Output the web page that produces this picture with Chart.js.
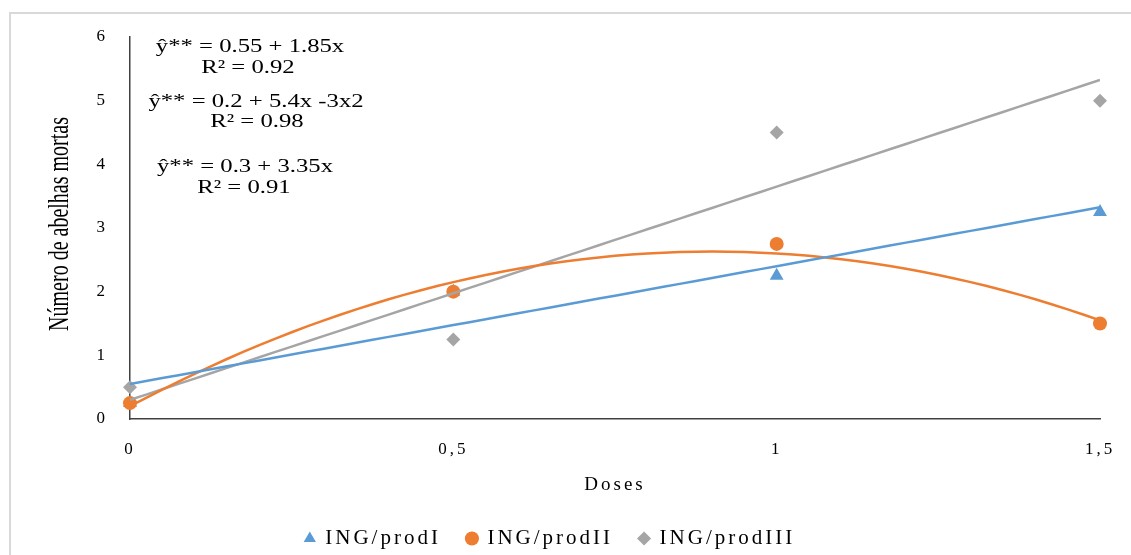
<!DOCTYPE html>
<html lang="pt">
  <head>
    <meta charset="UTF-8" />
    <script src="https://cdn.jsdelivr.net/npm/chart.js"></script>
    <title>Número de abelhas mortas</title>
    <style>
      body { margin: 0; background: #fff; }
    </style>
  </head>
  <body>
    <canvas id="myChart" width="1131" height="555"></canvas>

    <script>
      // data
      const doses = [0, 0.5, 1, 1.5];
      const prodI = [0.25, 2, 2.25, 3.25];
      const prodII = [0.25, 2, 2.75, 1.5];
      const prodIII = [0.5, 1.25, 4.5, 5];
      const seriesNames = ["ING/prodI", "ING/prodII", "ING/prodIII"];
      // trend coefficients as printed on the chart: a + b*x + c*x^2
      const coefI = [0.55, 1.85, 0];
      const coefII = [0.2, 5.4, -3];
      const coefIII = [0.3, 3.35, 0];
      const equations = [
        ["ŷ** = 0.55 + 1.85x", "R² = 0.92"],
        ["ŷ** = 0.2 + 5.4x -3x2", "R² = 0.98"],
        ["ŷ** = 0.3 + 3.35x", "R² = 0.91"],
      ];
      const yTicks = [0, 1, 2, 3, 4, 5, 6];

      const colors = ["#5b9bd5", "#ed7d31", "#a5a5a5"];
      const serif = "'Liberation Serif', 'Times New Roman', serif";

      function points(ys) {
        return doses.map((x, i) => ({ x: x, y: ys[i] }));
      }

      // trend line sampled along the fitted equation
      function trend(c) {
        let pts = [];
        for (let i = 0; i <= 60; i++) {
          let x = (i / 60) * 1.5;
          pts.push({ x: x, y: c[0] + c[1] * x + c[2] * x * x });
        }
        return pts;
      }

      const trendDs = [coefI, coefII, coefIII].map((c, i) => ({
        label: "trend" + i,
        data: trend(c),
        showLine: true,
        borderColor: colors[i],
        borderWidth: 2.5,
        pointRadius: 0,
        fill: false,
        order: 1 + i,
      }));

      const markerDs = [prodI, prodII, prodIII].map((ys, i) => ({
        label: seriesNames[i],
        data: points(ys),
        showLine: false,
        clip: false,
        pointStyle: ["triangle", "circle", "rectRot"][i],
        pointRadius: [8, 7, 7][i],
        backgroundColor: colors[i],
        borderColor: colors[i],
        borderWidth: 0,
        order: 6 - i,
      }));

      // letter spacing to mimic the wide text of the original
      const spacing = {
        id: "spacing",
        beforeUpdate(chart) { chart.ctx.letterSpacing = "3px"; },
        beforeDraw(chart) { chart.ctx.letterSpacing = "3px"; },
      };

      // frame, y title and regression labels
      const extras = {
        id: "extras",
        afterDraw(chart) {
          const ctx = chart.ctx;
          const a = chart.chartArea;
          ctx.save();
          ctx.letterSpacing = "0px";
          ctx.strokeStyle = "#d9d9d9";
          ctx.lineWidth = 2;
          ctx.beginPath();
          ctx.moveTo(10, 555);
          ctx.lineTo(10, 13);
          ctx.lineTo(1131, 13);
          ctx.stroke();

          ctx.fillStyle = "#000";
          ctx.textAlign = "center";
          ctx.textBaseline = "middle";

          ctx.save();
          ctx.translate(60, 224);
          ctx.rotate(-Math.PI / 2);
          ctx.scale(1, 1.5);
          ctx.font = "20px " + serif;
          ctx.fillText("Número de abelhas mortas", 0, 0);
          ctx.restore();

          const pos = [
            [250, 47, 248, 68],
            [256, 102, 257, 122],
            [245, 167, 244, 188],
          ];
          ctx.font = "19px " + serif;
          equations.forEach((eq, i) => {
            const p = pos[i];
            [0, 1].forEach((k) => {
              ctx.save();
              ctx.translate(a.left + p[k * 2] - 130, a.top + p[k * 2 + 1] - 37);
              ctx.scale(1.3, 1);
              ctx.fillText(eq[k], 0, 0);
              ctx.restore();
            });
          });
          ctx.restore();
        },
      };

      const config = {
        type: "scatter",
        data: { datasets: trendDs.concat(markerDs) },
        options: {
          responsive: false,
          animation: false,
          layout: { padding: { top: 37, right: 31, bottom: -4, left: 0 } },
          scales: {
            x: {
              type: "linear",
              min: 0,
              max: 1.5,
              afterFit: (s) => {
                s.height = 83;
                s.paddingLeft = 0;
                s.paddingRight = 0;
              },
              grid: { display: false, drawTicks: false },
              border: { display: true, color: "#404040", width: 1.5 },
              ticks: {
                stepSize: 0.5,
                padding: 20,
                color: "#000",
                font: { family: serif, size: 17 },
                callback: (v) => String(v).replace(".", ","),
              },
              title: {
                display: true,
                text: "Doses",
                color: "#000",
                font: { family: serif, size: 19 },
                padding: { top: 6, bottom: 6 },
              },
            },
            y: {
              min: 0,
              max: 6,
              afterFit: (s) => { s.width = 130; },
              afterBuildTicks: (s) => { s.ticks = yTicks.map((v) => ({ value: v })); },
              grid: { display: false, drawTicks: false },
              border: { display: true, color: "#404040", width: 1.5 },
              ticks: {
                padding: 22,
                color: "#000",
                font: { family: serif, size: 17 },
              },
            },
          },
          plugins: {
            tooltip: { enabled: false },
            legend: {
              position: "bottom",
              labels: {
                usePointStyle: true,
                boxWidth: 10,
                boxHeight: 10,
                padding: 26,
                color: "#000",
                font: { family: serif, size: 21 },
                filter: (item) => item.datasetIndex >= 3,
                sort: (a, b) => a.datasetIndex - b.datasetIndex,
              },
            },
          },
        },
        plugins: [spacing, extras],
      };

      var myChart = new Chart(document.getElementById("myChart"), config);
    </script>
  </body>
</html>
